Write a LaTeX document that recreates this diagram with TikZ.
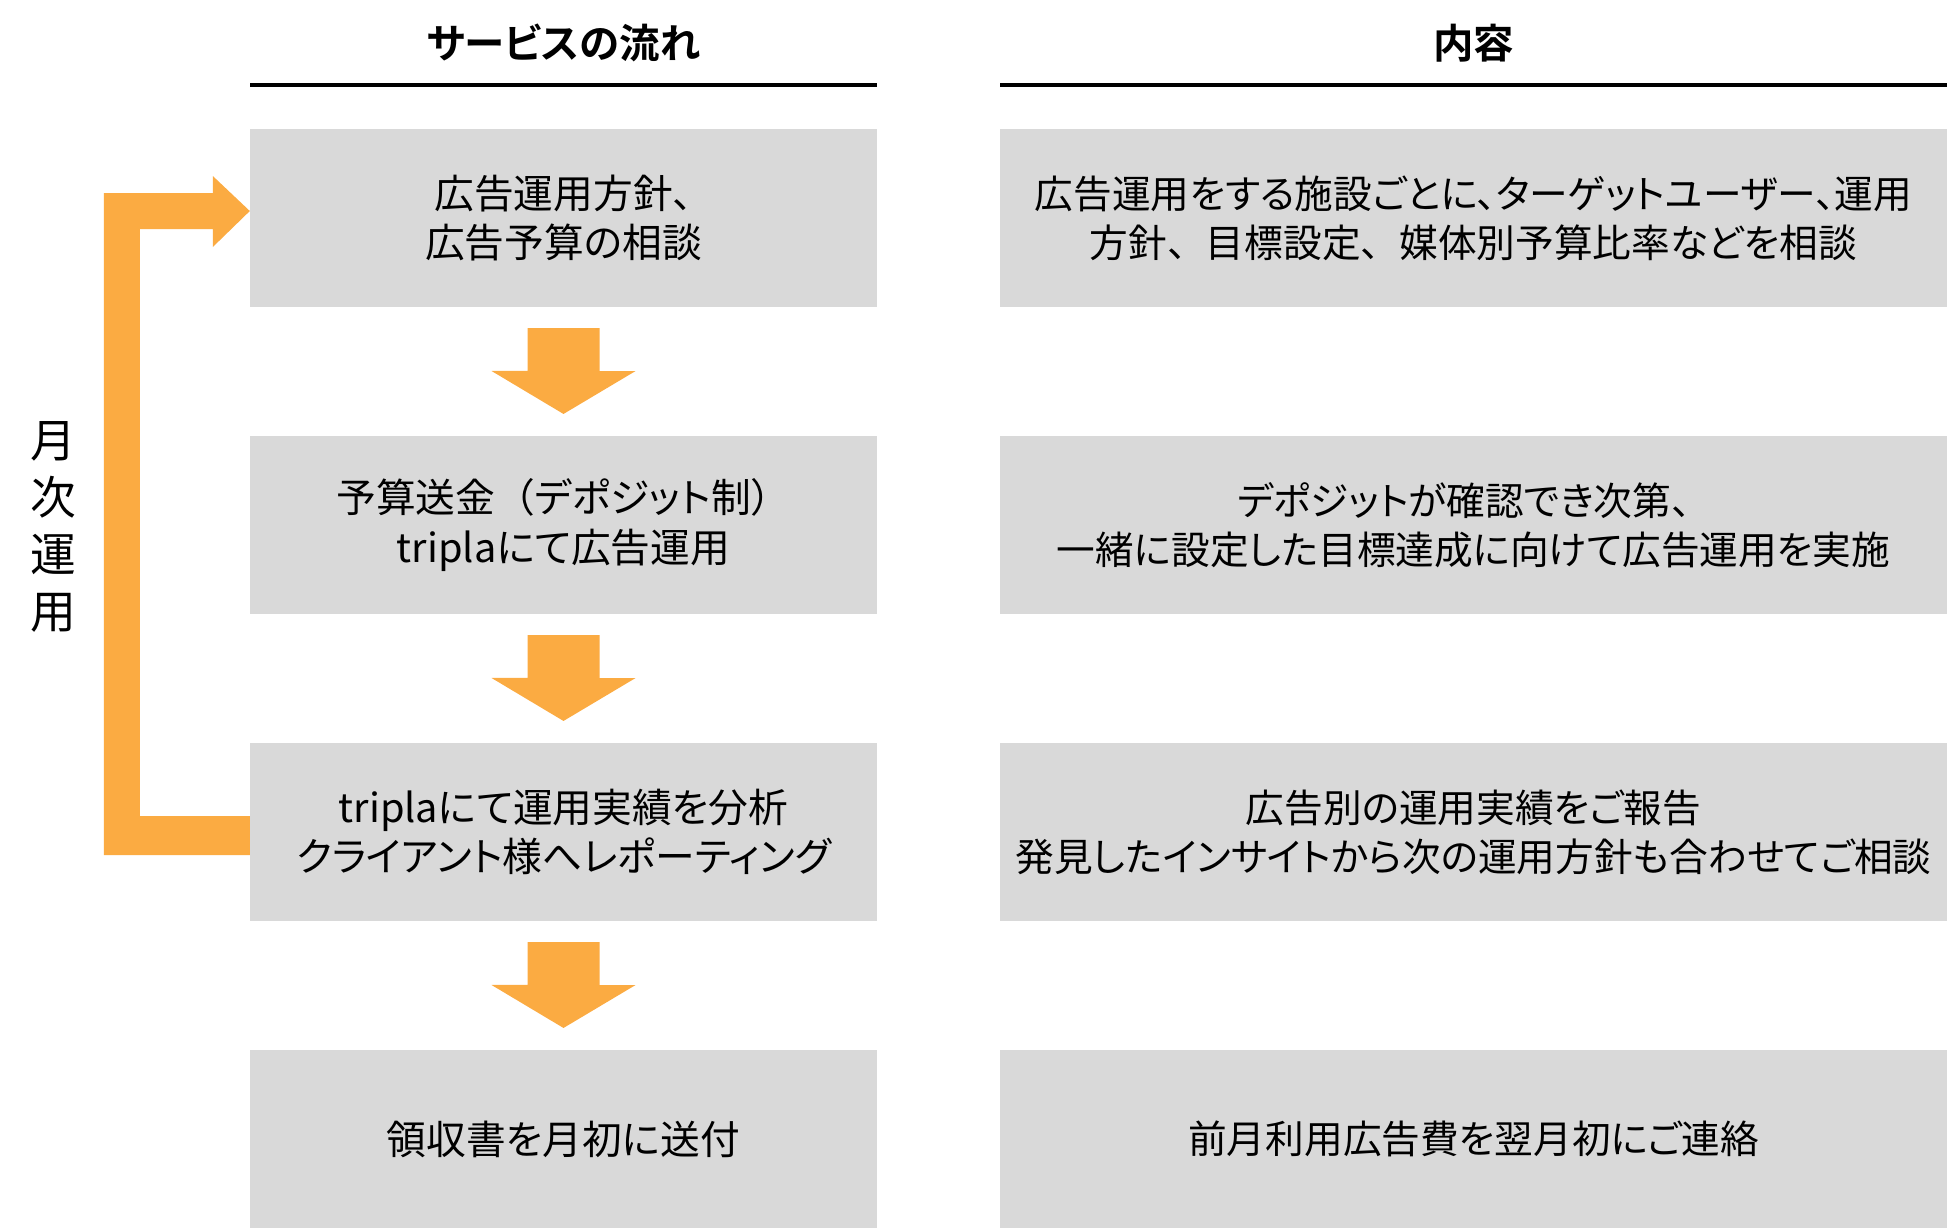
\documentclass[tikz,border=0pt]{standalone}
\usepackage{fontspec}
\setmainfont{Noto Sans CJK JP}[RawFeature=+palt, BoldFont={Noto Sans CJK JP Bold}]
\newfontfamily\jpfw{Noto Sans CJK JP}
\newcommand\fw[1]{{\jpfw #1}}
\usetikzlibrary{calc}
\definecolor{boxgray}{RGB}{217,217,217}
\definecolor{arrorange}{RGB}{251,171,66}
\newcommand\dnarr[2]{%
  \fill[arr] ($(#1.south)+(-36,21)$) -- ++(72,0) -- ++(0,43) -- ++(36,0)
    -- ($(#2.north)+(0,-22)$) -- ++(-72,-43) -- ++(36,0) -- cycle;}
\begin{document}
\begin{tikzpicture}[x=0.01cm,y=-0.01cm,
  every node/.style={inner sep=0pt, outer sep=0pt},
  txt/.style={font=\fontsize{11.3}{14}\selectfont, align=center, text=black},
  lbox/.style={txt, fill=boxgray, minimum width=6.27cm, minimum height=1.78cm},
  rbox/.style={txt, font=\fontsize{11}{14}\selectfont, fill=boxgray, minimum width=9.46cm, minimum height=1.78cm},
  head/.style={font=\fontsize{11.5}{14}\selectfont\bfseries, text=black},
  hline/.style={line width=0.9pt, draw=black},
  arr/.style={fill=arrorange, draw=none}]
\useasboundingbox (0,0) rectangle (1950,1229);

% headers
\node[head] (h1) at (563.5,43) {サービスの流れ};
\node[head] (h2) at (1473.5,43) {内容};
\coordinate (l1a) at (250,85); \coordinate (l1b) at (877,85);
\coordinate (l2a) at (1000,85); \coordinate (l2b) at (1947,85);
\draw[hline] (l1a) -- (l1b);
\draw[hline] (l2a) -- (l2b);

% left boxes
\node[lbox] (b1) at (563.5,218) {広告運用方針、\\広告予算の相談};
\node[lbox] (b2) at (563.5,525) {予算送金\fw{（}デポジット制\fw{）}\\triplaにて広告運用};
\node[lbox] (b3) at (563.5,832) {triplaにて運用実績を分析\\クライアント様へレポーティング};
\node[lbox] (b4) at (563.5,1139) {領収書を月初に送付};

% right boxes
\node[rbox] (r1) at (1473.5,218) {広告運用をする施設ごとに、ターゲットユーザー、運用\\方針\fw{、}目標設定\fw{、}媒体別予算比率などを相談};
\node[rbox] (r2) at (1473.5,525) {デポジットが確認でき次第\fw{、}\\一緒に設定した目標達成に向けて広告運用を実施};
\node[rbox] (r3) at (1473.5,832) {広告別の運用実績をご報告\\発見したインサイトから次の運用方針も合わせてご相談};
\node[rbox] (r4) at (1473.5,1139) {前月利用広告費を翌月初にご連絡};

% down arrows
\dnarr{b1}{b2}
\dnarr{b2}{b3}
\dnarr{b3}{b4}

% loop arrow
\fill[arr] ($(b3.west)+(0,-16)$) -- ++(-110,0) -- ($(b1.west)+(-110,11)$)
  -- ++(73,0) -- ++(0,18) -- ($(b1.west)+(0,-7)$) -- ($(b1.west)+(-37,-42)$)
  -- ++(0,17) -- ++(-109,0) -- ($(b3.west)+(-146,23)$) -- ($(b3.west)+(0,23)$) -- cycle;

% vertical label
\node[txt, font=\fontsize{13}{16.2}\selectfont] (v) at (53,527) {月\\次\\運\\用};
\end{tikzpicture}
\end{document}
